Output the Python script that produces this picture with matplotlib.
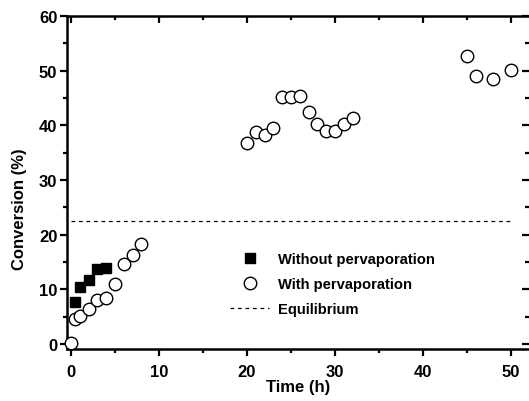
import matplotlib
matplotlib.use("Agg")
import matplotlib.pyplot as plt
from matplotlib.ticker import MultipleLocator, NullFormatter

plt.rcParams['font.family'] = ['Liberation Sans', 'DejaVu Sans']
plt.rcParams['font.weight'] = 'bold'

# without pervaporation
t_without = [0.5, 1, 2, 3, 4]
c_without = [7.7, 10.4, 11.7, 13.7, 13.9]

# with pervaporation
t_with = [0, 0.5, 1, 2, 3, 4, 5, 6, 7, 8,
          20, 21, 22, 23, 24, 25, 26, 27, 28, 29, 30, 31, 32,
          45, 46, 48, 50]
c_with = [0.2, 4.6, 5.2, 6.5, 8.0, 8.5, 11.0, 14.6, 16.2, 18.3,
          36.8, 38.8, 38.3, 39.5, 45.1, 45.1, 45.4, 42.4, 40.2, 39.0, 38.9, 40.2, 41.4,
          52.7, 49.1, 48.4, 50.2]

equil_t = [0, 50]
equil_c = [22.6, 22.6]

fig = plt.figure(figsize=(5.29, 4.02), dpi=100)
ax = fig.add_axes([67/529, 52/402, 462/529, 333/402])

ax.plot(t_without, c_without, 's', color='black', markersize=7.5,
        label='Without pervaporation', clip_on=False, zorder=3)
ax.plot(t_with, c_with, 'o', markerfacecolor='white', markeredgecolor='black',
        markeredgewidth=1.0, markersize=9, label='With pervaporation', clip_on=False, zorder=3)
ax.plot(equil_t, equil_c, color='black', linewidth=0.9, dashes=(3, 3), label='Equilibrium')

ax.set_xlim(-0.45, 52.05)
ax.set_ylim(-0.9, 60)

for a in [ax.xaxis, ax.yaxis]:
    a.set_major_locator(MultipleLocator(10))
    a.set_minor_locator(MultipleLocator(5))

for s in ['left', 'bottom', 'top']:
    ax.spines[s].set_linewidth(1.8)
ax.spines['right'].set_visible(False)

ax.tick_params(which='both', direction='out', width=1.6, labelsize=12)
ax.tick_params(which='major', length=5)
ax.tick_params(which='minor', length=3)
ax.tick_params(axis='x', which='major', pad=6)
ax.tick_params(axis='y', which='major', pad=2)

# inward ticks on top and right
top = ax.secondary_xaxis('top')
right = ax.secondary_yaxis('right')
for sec in [top, right]:
    sec.spines[:].set_visible(False)
    axis = sec.xaxis if sec is top else sec.yaxis
    axis.set_major_locator(MultipleLocator(10))
    axis.set_minor_locator(MultipleLocator(5))
    axis.set_major_formatter(NullFormatter())
    sec.tick_params(which='both', direction='in', width=1.6)
    sec.tick_params(which='major', length=5)
    sec.tick_params(which='minor', length=3)

for lab in ax.get_xticklabels() + ax.get_yticklabels():
    lab.set_fontweight('bold')

ax.set_xlabel('Time (h)', fontsize=12, fontweight='bold', labelpad=0)
ax.set_ylabel('Conversion (%)', fontsize=12, fontweight='bold')
ax.yaxis.set_label_coords(-0.087, 0.423)

leg = ax.legend(loc='upper left', bbox_to_anchor=(0.325, 0.33), frameon=False,
                handlelength=2.6, handletextpad=0.6, labelspacing=0.75,
                prop={'weight': 'bold', 'size': 10.6})

fig.savefig('out.png', dpi=100)
